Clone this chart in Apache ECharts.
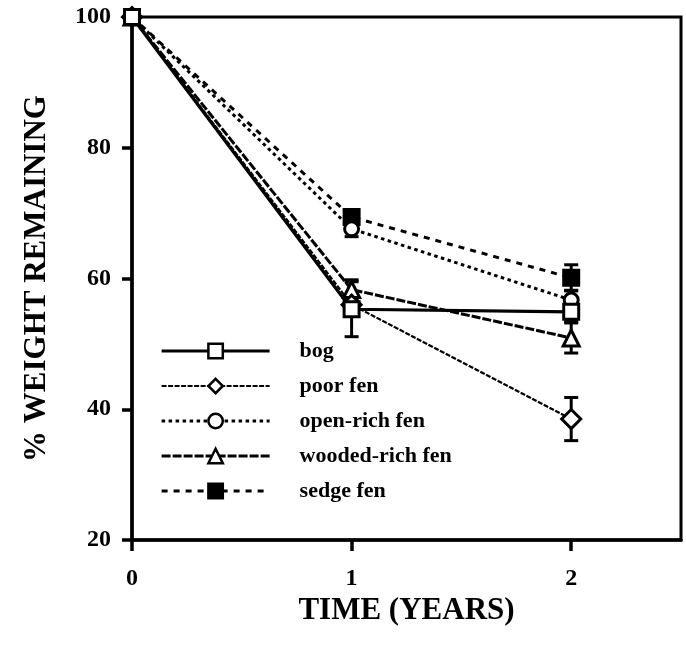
<!DOCTYPE html>
<html>
<head>
<meta charset="utf-8">
<script src="https://cdn.jsdelivr.net/npm/echarts@6/dist/echarts.min.js"></script>
<style>
  html, body { margin: 0; padding: 0; background: #fff; }
  #chart { width: 686px; height: 646px; }
</style>
</head>
<body>
<div id="chart"></div>
<script>
// Litter decomposition: percent of initial weight left after 0, 1 and 2 years
const years = [0, 1, 2];
const yTicks = [20, 40, 60, 80, 100];

const bog        = [100, 55.3, 54.9];
const poorFen    = [100, 56.0, 38.5];
const openRich   = [100, 67.6, 56.7];
const woodedRich = [100, 58.3, 50.9];
const sedgeFen   = [100, 69.4, 60.1];

// standard errors (half-length of each error bar)
const bogErr        = [0, 4.2, 1.5];
const poorFenErr    = [0, 1.5, 3.3];
const openRichErr   = [0, 1.2, 1.5];
const woodedRichErr = [0, 1.5, 2.3];
const sedgeFenErr   = [0, 1.0, 2.0];

const names = ['bog', 'poor fen', 'open-rich fen', 'wooded-rich fen', 'sedge fen'];

const FONT = '"Liberation Serif", "DejaVu Serif", serif';
const INK = '#000';

function pairs(vals) { return years.map((x, i) => [x, vals[i]]); }

const groups = [
  { name: names[0], vals: bog, err: bogErr, symbol: 'rect', size: 15, fill: '#fff',
    line: { width: 3.2, type: 'solid' } },
  { name: names[1], vals: poorFen, err: poorFenErr, symbol: 'diamond', size: 19, fill: '#fff',
    line: { width: 2.2, type: [5, 1.5] } },
  { name: names[2], vals: openRich, err: openRichErr, symbol: 'circle', size: 14, fill: '#fff',
    line: { width: 3, type: [3.5, 3.5] } },
  { name: names[3], vals: woodedRich, err: woodedRichErr, symbol: 'triangle', size: 16, fill: '#fff',
    line: { width: 3, type: [9, 2] } },
  { name: names[4], vals: sedgeFen, err: sedgeFenErr, symbol: 'rect', size: 15, fill: INK,
    line: { width: 3, type: [6, 6] } }
];

// error bar rows: [x, mean, halfLength]
const errRows = [];
groups.forEach(g => years.forEach((x, i) => {
  if (g.err[i] > 0) errRows.push([x, g.vals[i], g.err[i]]);
}));

const series = groups.map((g, k) => ({
  name: g.name,
  type: 'line',
  data: pairs(g.vals),
  symbol: g.symbol,
  symbolSize: g.size,
  showAllSymbol: true,
  z: 10 - k,
  lineStyle: { color: INK, width: g.line.width, type: g.line.type },
  itemStyle: { color: g.fill, borderColor: INK, borderWidth: 3 },
  emphasis: { disabled: true },
  animation: false
}));

series.push({
  type: 'custom',
  name: 'errors',
  data: errRows,
  z: 1,
  silent: true,
  animation: false,
  renderItem: function (params, api) {
    const x = api.value(0), m = api.value(1), e = api.value(2);
    const hi = api.coord([x, m + e]);
    const lo = api.coord([x, m - e]);
    const cap = 7;
    const st = { stroke: INK, lineWidth: 3 };
    return {
      type: 'group',
      children: [
        { type: 'line', shape: { x1: hi[0], y1: hi[1], x2: lo[0], y2: lo[1] }, style: st },
        { type: 'line', shape: { x1: hi[0] - cap, y1: hi[1], x2: hi[0] + cap, y2: hi[1] }, style: st },
        { type: 'line', shape: { x1: lo[0] - cap, y1: lo[1], x2: lo[0] + cap, y2: lo[1] }, style: st }
      ]
    };
  }
});

// legend entries carry each series' own stroke so the key lines look like the plot lines
const legendData = groups.map(g => ({
  name: g.name,
  lineStyle: { width: g.line.width, type: g.line.type, color: INK },
  itemStyle: { borderWidth: 2.5, borderColor: INK, color: g.fill }
}));

const chart = echarts.init(document.getElementById('chart'), null, { renderer: 'canvas' });
chart.setOption({
  backgroundColor: '#fff',
  animation: false,
  grid: {
    left: 132, right: 5, top: 17, bottom: 106,
    show: true, borderColor: INK, borderWidth: 3, backgroundColor: 'transparent'
  },
  legend: {
    orient: 'vertical',
    left: 155, top: 335,
    itemWidth: 108, itemHeight: 18, itemGap: 13,
    data: legendData,
    selectedMode: false,
    textStyle: { fontFamily: FONT, fontWeight: 'bold', fontSize: 22, lineHeight: 22, color: INK, padding: [0, 0, 0, 25] }
  },
  xAxis: {
    type: 'value',
    min: 0, max: 2.5, interval: 1,
    name: 'TIME (YEARS)',
    nameLocation: 'middle',
    nameGap: 44,
    nameTextStyle: { fontFamily: FONT, fontWeight: 'bold', fontSize: 31, color: INK },
    axisLine: { show: true, onZero: false, lineStyle: { color: INK, width: 3.5 } },
    axisTick: { show: true, length: 11, customValues: years, lineStyle: { color: INK, width: 3.5 } },
    axisLabel: { customValues: years, margin: 27, fontFamily: FONT, fontWeight: 'bold', fontSize: 24, color: INK },
    splitLine: { show: false }
  },
  yAxis: {
    type: 'value',
    min: 20, max: 100, interval: 20,
    name: '% WEIGHT REMAINING',
    nameLocation: 'middle',
    nameGap: 80,
    nameTextStyle: { fontFamily: FONT, fontWeight: 'bold', fontSize: 31, color: INK },
    axisLine: { show: true, onZero: false, lineStyle: { color: INK, width: 3.5 } },
    axisTick: { show: true, length: 10, customValues: yTicks, lineStyle: { color: INK, width: 3.5 } },
    axisLabel: { customValues: yTicks, margin: 21, fontFamily: FONT, fontWeight: 'bold', fontSize: 24, color: INK },
    splitLine: { show: false }
  },
  series: series
});
</script>
</body>
</html>
